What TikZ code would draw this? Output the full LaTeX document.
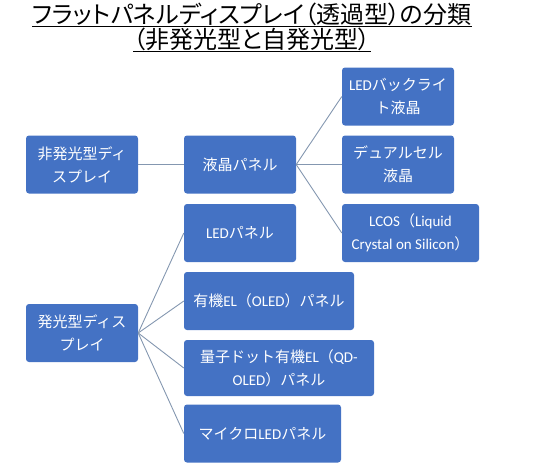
\documentclass[tikz,border=0pt]{standalone}
\usepackage{fontspec}
\setmainfont{Noto Sans CJK JP}
\newfontfamily\lat{Carlito}
\newfontfamily\ttl[RawFeature=+palt]{Noto Sans CJK JP}
\definecolor{boxblue}{HTML}{4472C4}
\definecolor{linkc}{HTML}{8497B0}
\begin{document}
\begin{tikzpicture}[x=1pt,y=-1pt,
  box/.style={fill=boxblue, rounded corners=3pt, text=white, align=center,
    font=\fontsize{15}{23}\selectfont, minimum height=58pt, inner sep=0pt},
  link/.style={draw=linkc, line width=0.9pt},
  ttlnode/.style={font=\ttl\fontsize{24}{24}\selectfont, inner sep=0pt, text=black},
  uline/.style={draw=black, line width=1.2pt}]
\useasboundingbox (0,0) rectangle (548,467);

% title
\node[ttlnode] (t1) at (252,14) {フラットパネルディスプレイ（透過型）の分類};
\node[ttlnode] (t2) at (252,39) {（非発光型と自発光型）};
\draw[uline] ([yshift=-3pt]t1.base west) -- ([yshift=-3pt]t1.base east);
\draw[uline] ([yshift=-3pt]t2.base west) -- ([yshift=-3pt]t2.base east);

% boxes
\node[box, minimum width=112pt] (n1) at (82,164.5) {非発光型ディ\\スプレイ};
\node[box, minimum width=112pt] (lcd) at (240,164.5) {液晶パネル};
\node[box, minimum width=112pt] (bl) at (398,96.5) {{\lat LED}バックライ\\ト液晶};
\node[box, minimum width=112pt] (dc) at (398,164.5) {デュアルセル\\液晶};
\node[box, minimum width=137pt] (lcos) at (410.5,233) {{\lat LCOS}（{\lat Liquid}\\{\lat Crystal on Silicon}）};
\node[box, minimum width=112pt] (ledp) at (240,233) {{\lat LED}パネル};
\node[box, minimum width=112pt] (n2) at (82,333) {発光型ディス\\プレイ};
\node[box, minimum width=170pt] (oled) at (269,301) {有機{\lat EL}（{\lat OLED}）パネル};
\node[box, minimum width=190pt, minimum height=56pt] (qd) at (279,368) {量子ドット有機{\lat EL}（{\lat QD-}\\{\lat OLED}）パネル};
\node[box, minimum width=157pt] (micro) at (262.5,433.5) {マイクロ{\lat LED}パネル};

% connectors
\draw[link] (n1.east) -- (lcd.west);
\draw[link] (lcd.east) -- (bl.west);
\draw[link] (lcd.east) -- (dc.west);
\draw[link] (lcd.east) -- (lcos.west);
\draw[link] (n2.east) -- (ledp.west);
\draw[link] (n2.east) -- (oled.west);
\draw[link] (n2.east) -- (qd.west);
\draw[link] (n2.east) -- (micro.west);
\end{tikzpicture}
\end{document}
